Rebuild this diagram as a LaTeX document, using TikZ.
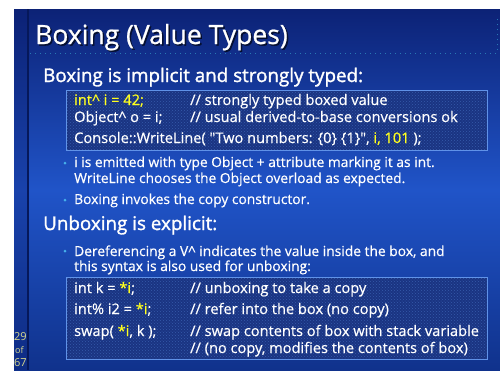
\documentclass[tikz,border=0pt]{standalone}
\usepackage{fontspec}
\setmainfont{Open Sans}
\newfontfamily\titlefont[FakeBold=0.8]{Open Sans}
\newfontfamily\headfont[FakeBold=1.5]{Open Sans}
\newfontfamily\bodyfont[FakeBold=0.5]{Open Sans}
\usetikzlibrary{patterns}
\definecolor{slidetop}{RGB}{12,34,118}
\definecolor{slidemid}{RGB}{32,84,200}
\definecolor{slidebot}{RGB}{16,50,140}
\definecolor{stripline}{RGB}{6,24,90}
\definecolor{boxfill}{RGB}{26,52,130}
\definecolor{boxline}{RGB}{96,146,232}
\definecolor{codeyellow}{RGB}{255,255,30}
\definecolor{bulletblue}{RGB}{70,175,235}
\definecolor{dotline}{RGB}{40,120,180}
\definecolor{pagenum}{RGB}{215,215,140}
\newcommand{\yel}[1]{\textcolor{codeyellow}{#1}}
\newcommand{\caret}{\textasciicircum{}}
\tikzset{
    % node styles
    title/.style = {anchor=base west, inner sep=0pt, white, font=\titlefont\fontsize{26.5}{30}\selectfont},
    heading/.style = {anchor=base west, inner sep=0pt, white, font=\headfont\fontsize{18.8}{21}\selectfont},
    body/.style = {anchor=base west, inner sep=0pt, white, font=\bodyfont\fontsize{13.8}{16}\selectfont},
    code/.style = {body, font=\bodyfont\fontsize{14.6}{16}\selectfont},
    bullet/.style = {circle, fill=bulletblue, inner sep=0pt, minimum size=3pt},
    pageno/.style = {anchor=base west, inner sep=0pt, pagenum, font=\fontsize{11}{12}\selectfont},
    % box style
    codebox/.style = {fill=boxfill, inner sep=0pt},
    box frame/.style = {draw=boxline, line width=1pt},
    % line style
    dotted rule/.style = {dotline, line width=1pt, dash pattern=on 1pt off 4pt}
}

\begin{document}
\begin{tikzpicture}[x=1pt, y=-1pt]
        \useasboundingbox (0,0) rectangle (500,370);
        % slide background
        \shade[top color=slidetop, bottom color=slidebot, middle color=slidemid] (14,9) rectangle (500,370);
        \fill[slidetop, opacity=0.35] (14,9) rectangle (28,370);
        \draw[stripline, line width=1.2pt] (28,9) -- (28,370);
        \draw[dotted rule] (30,53) -- (497,53) -- (497,17);

        % title
        \node[title, black, opacity=0.6] at (36.5,45.5) {Boxing (Value Types)};
        \node[title] (title) at (35,44) {Boxing (Value Types)};

        % first part
        \node[heading] (head1) at (43,82) {Boxing is implicit and strongly typed:};
        \node[codebox, minimum width=420pt, minimum height=59pt] (box1) at (277,120.5) {};
        \fill[pattern=crosshatch dots, pattern color=boxline!40!boxfill] (box1.south west) rectangle (box1.north east);
        \draw[box frame] (box1.south west) rectangle (box1.north east);
        \node[code] (b1c1) at (74,105) {\yel{int\caret{} i = 42;}};
        \node[code] (b1m1) at (190,105) {// strongly typed boxed value};
        \node[code] (b1c2) at (74,122) {Object\caret{} o = i;};
        \node[code] (b1m2) at (190,122) {// usual derived-to-base conversions ok};
        \node[code] (b1c3) at (74,143) {Console::WriteLine( \textquotedbl Two numbers: \{0\} \{1\}\textquotedbl, \yel{i, 101} );};

        \node[bullet] (dot1) at (65,163) {};
        \node[body] (txt1) at (74,167) {i is emitted with type Object + attribute marking it as int.};
        \node[body] (txt1b) at (74,183) {WriteLine chooses the Object overload as expected.};
        \node[bullet] (dot2) at (65,200) {};
        \node[body] (txt2) at (74,204) {Boxing invokes the copy constructor.};

        % second part
        \node[heading] (head2) at (43,230) {Unboxing is explicit:};
        \node[bullet] (dot3) at (65,251) {};
        \node[body] (txt3) at (74,256) {Dereferencing a V\caret{} indicates the value inside the box, and};
        \node[body] (txt3b) at (74,271) {this syntax is also used for unboxing:};
        \node[codebox, minimum width=420pt, minimum height=81pt] (box2) at (277,318.5) {};
        \fill[pattern=crosshatch dots, pattern color=boxline!40!boxfill] (box2.south west) rectangle (box2.north east);
        \draw[box frame] (box2.south west) rectangle (box2.north east);
        \node[code] (b2c1) at (74,293) {int k = \yel{*i};};
        \node[code] (b2m1) at (190,293) {// unboxing to take a copy};
        \node[code] (b2c2) at (74,314) {int\% i2 = \yel{*i};};
        \node[code] (b2m2) at (190,314) {// refer into the box (no copy)};
        \node[code] (b2c3) at (74,336) {swap( \yel{*i}, k );};
        \node[code] (b2m3) at (190,336) {// swap contents of box with stack variable};
        \node[code] (b2m4) at (190,353) {// (no copy, modifies the contents of box)};

        % page number
        \node[pageno] (pg) at (14,340) {29};
        \node[pageno, font=\fontsize{9}{10}\selectfont] (pgof) at (15,353) {of};
        \node[pageno] (pgall) at (14,366) {67};
\end{tikzpicture}
\end{document}
